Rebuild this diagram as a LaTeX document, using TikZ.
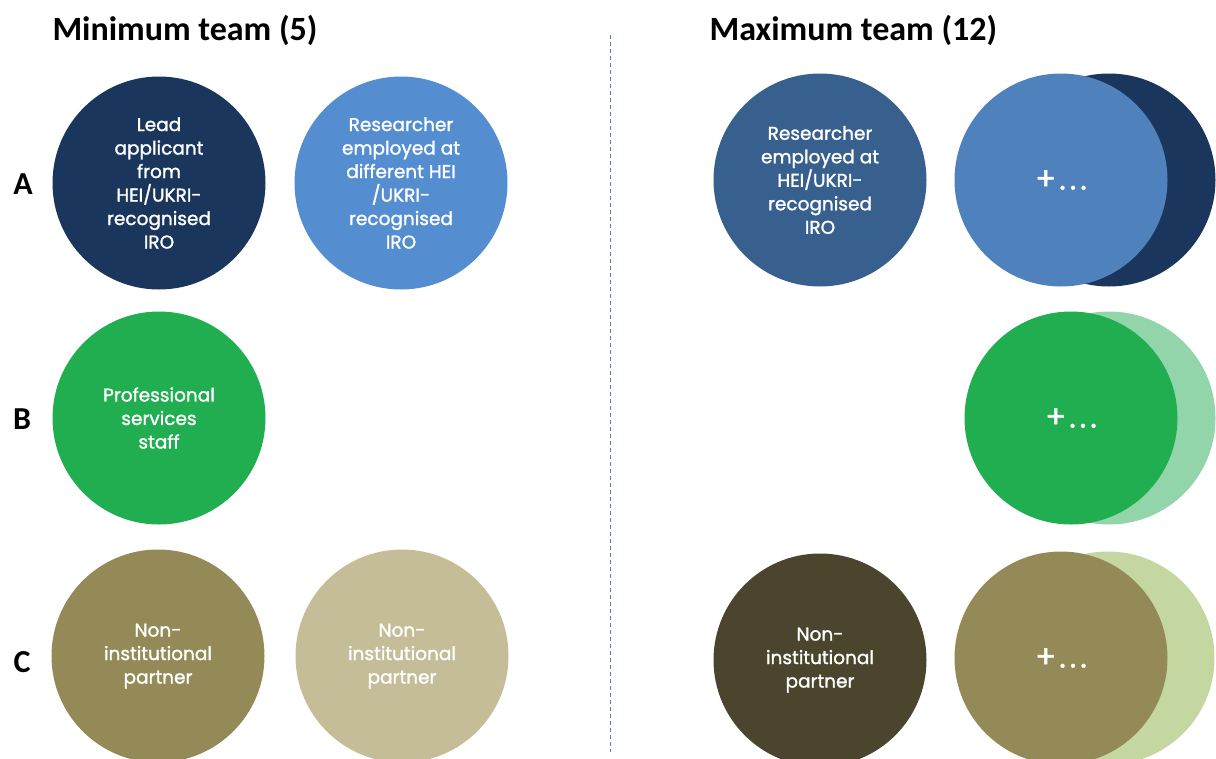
\documentclass[tikz,border=0pt]{standalone}
\usepackage{fontspec}
\setmainfont{Carlito}
\newfontfamily\bubblefont{Poppins}[FakeBold=1.4]
\usepackage{xcolor}
\definecolor{navy}{RGB}{27,54,93}
\definecolor{skyblue}{RGB}{85,142,208}
\definecolor{steelblue}{RGB}{56,96,143}
\definecolor{midblue}{RGB}{79,129,189}
\definecolor{grassgreen}{RGB}{33,174,80}
\definecolor{palegreen}{RGB}{146,213,170}
\definecolor{olive}{RGB}{148,138,87}
\definecolor{tan}{RGB}{196,189,152}
\definecolor{darkolive}{RGB}{75,69,46}
\definecolor{sage}{RGB}{196,215,160}
\newcommand{\plusmore}{+\hspace{3pt}.\hspace{4pt}.\hspace{4pt}.}

\begin{document}
\begin{tikzpicture}[x=1pt,y=-1pt,
  member/.style={circle, minimum size=213pt, inner sep=0pt, align=center, text=white,
    font=\bubblefont\fontsize{18.5}{23.5}\selectfont},
  more/.style={member, font=\bubblefont\fontsize{31}{34}\selectfont},
  heading/.style={anchor=base west, font=\bfseries\fontsize{34}{38}\selectfont},
  rowlabel/.style={font=\bfseries\fontsize{32}{36}\selectfont}]
\clip (0,0) rectangle (1216,758);

% titles and row letters
\node[heading] (mintitle) at (49,40) {Minimum team (5)};
\node[heading] (maxtitle) at (706,40) {Maximum team (12)};
\node[rowlabel] (rowA) at (23,184) {A};
\node[rowlabel] (rowB) at (22,419) {B};
\node[rowlabel] (rowC) at (22,662) {C};

% divider
\coordinate (divtop) at (610,35);
\coordinate (divbot) at (610,752);
\draw[midblue, dashed, line width=1pt, dash pattern=on 4pt off 3pt] (divtop) -- (divbot);

% minimum team
\node[member, fill=navy] (lead) at (159,183) {Lead\\applicant\\from\\HEI/UKRI-\\recognised\\IRO};
\node[member, fill=skyblue] (resdiff) at (401,183) {Researcher\\employed at\\different HEI\\/UKRI-\\recognised\\IRO};
\node[member, fill=grassgreen] (prof) at (159,418) {Professional\\services\\staff};
\node[member, fill=olive] (partnerA) at (158,656) {Non-\\institutional\\partner};
\node[member, fill=tan] (partnerB) at (402,656) {Non-\\institutional\\partner};

% maximum team
\node[member, fill=steelblue] (reshei) at (820,180) {Researcher\\employed at\\HEI/UKRI-\\recognised\\IRO};
\node[member, fill=navy] (moreAback) at (1109,180) {};
\node[more, fill=midblue] (moreA) at (1061,180) {\plusmore};
\node[member, fill=palegreen] (moreBback) at (1109,418) {};
\node[more, fill=grassgreen] (moreB) at (1071,418) {\plusmore};
\node[member, fill=darkolive] (partnerC) at (820,660) {Non-\\institutional\\partner};
\node[member, fill=sage] (moreCback) at (1108,658) {};
\node[more, fill=olive] (moreC) at (1061,658) {\plusmore};
\end{tikzpicture}
\end{document}
